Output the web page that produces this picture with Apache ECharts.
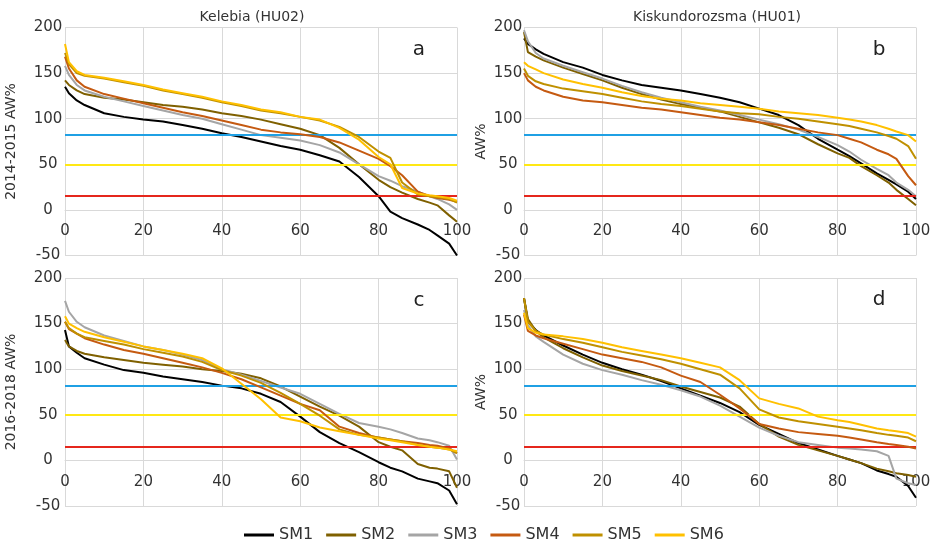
<!DOCTYPE html>
<html>
<head>
<meta charset="utf-8">
<script src="https://cdn.jsdelivr.net/npm/echarts@6/dist/echarts.min.js"></script>
<style>
html, body { margin: 0; padding: 0; background: #fff; }
#chart { width: 935px; height: 543px; }
</style>
</head>
<body>
<div id="chart"></div>
<script>
// exceedance (% of time) where each curve was read
const pct = [0, 1, 3, 5, 10, 15, 20, 25, 30, 35, 40, 45, 50, 55, 60, 65, 70, 75, 80, 83, 86, 90, 93, 95, 98, 100];
const names = ['SM1', 'SM2', 'SM3', 'SM4', 'SM5', 'SM6'];
const colors = ['#000000', '#7F6000', '#A5A5A5', '#C55A11', '#BF9000', '#FFC000'];
const thresholds = [82, 50, 15];
const thresholdColors = ['#1FA0E4', '#FFE814', '#E5261C'];

// a: Kelebia 2014-2015
const panelA = [
    [135, 128, 120, 115, 106, 102, 99, 97, 93, 89, 84, 80, 75, 70, 66, 60, 53, 36, 15, -2, -9, -16, -22, -28, -37, -50],
    [142, 137, 131, 127, 123, 121, 118, 115, 113, 110, 106, 103, 99, 94, 89, 82, 68, 50, 33, 25, 19, 12, 8, 5, -6, -13],
    [158, 148, 137, 131, 124, 119, 114, 109, 104, 100, 94, 88, 82, 79, 76, 71, 63, 50, 37, 32, 26, 20, 15, 12, 6, 0],
    [168, 155, 142, 135, 127, 122, 117, 112, 107, 103, 98, 93, 88, 85, 83, 80, 74, 65, 56, 48, 38, 20, 15, 13, 11, 9],
    [172, 160, 150, 147, 144, 140, 136, 131, 127, 123, 118, 114, 109, 106, 102, 98, 91, 80, 64, 57, 30, 17, 15, 14, 12, 8],
    [182, 162, 152, 148, 145, 141, 137, 132, 128, 124, 119, 115, 110, 107, 102, 99, 90, 77, 58, 50, 24, 18, 16, 15, 13, 10]
];
// b: Kiskundorozsma 2014-2015
const panelB = [
    [188, 182, 176, 171, 162, 156, 148, 142, 137, 134, 131, 127, 123, 118, 111, 104, 93, 78, 66, 59, 51, 40, 33, 28, 20, 12],
    [195, 173, 168, 164, 156, 149, 142, 134, 127, 121, 116, 112, 108, 102, 96, 90, 83, 72, 62, 57, 48, 38, 30, 22, 12, 5],
    [197, 185, 172, 166, 158, 151, 144, 136, 129, 123, 118, 113, 109, 104, 99, 94, 88, 80, 71, 64, 55, 45, 38, 30, 22, 15],
    [150, 142, 135, 131, 124, 120, 118, 115, 112, 110, 107, 104, 101, 99, 96, 93, 89, 85, 82, 78, 74, 66, 61, 56, 37, 27],
    [155, 147, 141, 138, 133, 130, 127, 123, 119, 116, 114, 111, 108, 106, 105, 102, 100, 97, 94, 92, 89, 85, 81, 78, 70, 56],
    [162, 158, 154, 150, 143, 138, 134, 129, 125, 122, 120, 117, 115, 113, 111, 108, 106, 104, 101, 99, 97, 93, 89, 86, 82, 75]
];
// c: Kelebia 2016-2018
const panelC = [
    [143, 125, 118, 112, 105, 99, 96, 92, 89, 86, 82, 79, 73, 64, 48, 31, 19, 9, -2, -8, -12, -20, -23, -25, -33, -48],
    [132, 125, 120, 117, 113, 110, 107, 105, 103, 100, 98, 95, 90, 81, 70, 59, 49, 37, 20, 15, 11, -4, -8, -9, -12, -30],
    [175, 163, 152, 146, 137, 131, 125, 121, 116, 110, 100, 94, 87, 80, 73, 62, 51, 41, 37, 34, 30, 24, 22, 20, 16, 1],
    [152, 144, 139, 134, 127, 121, 117, 112, 107, 102, 96, 89, 80, 71, 62, 55, 37, 30, 25, 23, 21, 19, 17, 16, 13, 8],
    [152, 145, 139, 135, 131, 127, 122, 118, 114, 108, 99, 93, 85, 74, 62, 49, 34, 28, 25, 23, 21, 17, 15, 14, 12, 8],
    [158, 150, 145, 141, 135, 130, 125, 121, 117, 112, 101, 84, 67, 47, 43, 36, 32, 28, 24, 22, 20, 17, 15, 14, 12, 10]
];
// d: Kiskundorozsma 2016-2018
const panelD = [
    [178, 152, 143, 137, 126, 116, 107, 100, 94, 87, 79, 71, 63, 53, 39, 29, 19, 12, 5, 1, -3, -11, -15, -18, -28, -41],
    [178, 155, 142, 135, 123, 113, 104, 98, 93, 88, 81, 75, 69, 59, 40, 26, 17, 11, 5, 1, -3, -9, -12, -14, -16, -18],
    [165, 148, 136, 130, 116, 106, 99, 94, 88, 83, 77, 70, 60, 48, 36, 27, 20, 17, 14, 13, 12, 10, 5, -20, -25, -27],
    [160, 142, 137, 134, 128, 122, 116, 112, 108, 102, 93, 86, 72, 57, 40, 35, 31, 29, 27, 25, 23, 20, 18, 17, 15, 13],
    [178, 152, 142, 138, 133, 129, 124, 119, 115, 111, 106, 100, 94, 79, 56, 47, 43, 40, 37, 35, 33, 30, 28, 27, 25, 21],
    [162, 145, 140, 138, 136, 133, 129, 124, 120, 116, 112, 107, 102, 88, 68, 62, 57, 48, 44, 42, 39, 35, 33, 32, 30, 26]
];

const panels = [panelA, panelB, panelC, panelD];
const yNames = ['2014-2015 AW%', 'AW%', '2016-2018 AW%', 'AW%'];
const font = 'DejaVu Sans';
const gridColor = '#D9D9D9';
const yMin = -50, yMax = 200;

var chart = echarts.init(document.getElementById('chart'));

let grids = [
    { left: 65, top: 27.5, width: 392, height: 228 },
    { left: 524, top: 27.5, width: 392, height: 228 },
    { left: 65, top: 278, width: 392, height: 228 },
    { left: 524, top: 278, width: 392, height: 228 }
];

// x axis sits on the y=0 line, so lift it up from the bottom of each grid
let xAxes = grids.map((g, i) => ({
    type: 'value',
    gridIndex: i,
    min: 0,
    max: 100,
    interval: 20,
    position: 'bottom',
    offset: -g.height * (0 - yMin) / (yMax - yMin),
    axisLine: { onZero: false, lineStyle: { color: gridColor, width: 1 } },
    axisTick: { show: false },
    axisLabel: { fontSize: 15, fontFamily: font, color: '#333', margin: 14 },
    splitLine: { lineStyle: { color: gridColor, width: 1 } }
}));

let yAxes = grids.map((g, i) => ({
    type: 'value',
    gridIndex: i,
    min: yMin,
    max: yMax,
    interval: 50,
    name: yNames[i],
    nameLocation: 'middle',
    nameGap: i % 2 == 0 ? 47 : 36,
    nameTextStyle: { fontSize: 14, fontFamily: font, color: '#333' },
    axisLine: { show: false },
    axisTick: { show: false },
    axisLabel: { fontSize: 15, fontFamily: font, color: '#333', align: 'center', margin: i % 2 == 0 ? 17 : 16 },
    splitLine: { lineStyle: { color: gridColor, width: 1 } }
}));

let series = [];
panels.forEach((panel, p) => {
    panel.forEach((vals, s) => {
        let item = {
            type: 'line',
            name: names[s],
            xAxisIndex: p,
            yAxisIndex: p,
            data: pct.map((x, k) => [x, vals[k]]),
            showSymbol: false,
            symbol: 'none',
            color: colors[s],
            lineStyle: { width: 2, color: colors[s] },
            z: 2 + s
        };
        if (s == panel.length - 1) {
            item.markLine = {
                silent: true,
                symbol: 'none',
                animation: false,
                label: { show: false },
                data: thresholds.map((v, t) => ({
                    yAxis: v,
                    lineStyle: { color: thresholdColors[t], width: 2, type: 'solid' }
                }))
            };
        }
        series.push(item);
    });
});

option = {
    backgroundColor: '#fff',
    animation: false,
    grid: grids,
    xAxis: xAxes,
    yAxis: yAxes,
    legend: {
        data: names,
        left: 239,
        top: 522,
        icon: 'rect',
        itemWidth: 30,
        itemHeight: 3,
        itemGap: 13,
        textStyle: { fontSize: 16, fontFamily: font, color: '#333' }
    },
    graphic: [
        { type: 'text', x: 252, y: 17, style: { text: 'Kelebia (HU02)', font: '14px "DejaVu Sans"', fill: '#333', textAlign: 'center', textVerticalAlign: 'middle' } },
        { type: 'text', x: 717, y: 17, style: { text: 'Kiskundorozsma (HU01)', font: '14px "DejaVu Sans"', fill: '#333', textAlign: 'center', textVerticalAlign: 'middle' } },
        { type: 'text', x: 419, y: 50, style: { text: 'a', font: '20px "DejaVu Sans"', fill: '#222', textAlign: 'center', textVerticalAlign: 'middle' } },
        { type: 'text', x: 879, y: 50, style: { text: 'b', font: '20px "DejaVu Sans"', fill: '#222', textAlign: 'center', textVerticalAlign: 'middle' } },
        { type: 'text', x: 419, y: 301, style: { text: 'c', font: '20px "DejaVu Sans"', fill: '#222', textAlign: 'center', textVerticalAlign: 'middle' } },
        { type: 'text', x: 879, y: 300, style: { text: 'd', font: '20px "DejaVu Sans"', fill: '#222', textAlign: 'center', textVerticalAlign: 'middle' } }
    ],
    series: series
};
chart.setOption(option);
</script>
</body>
</html>
